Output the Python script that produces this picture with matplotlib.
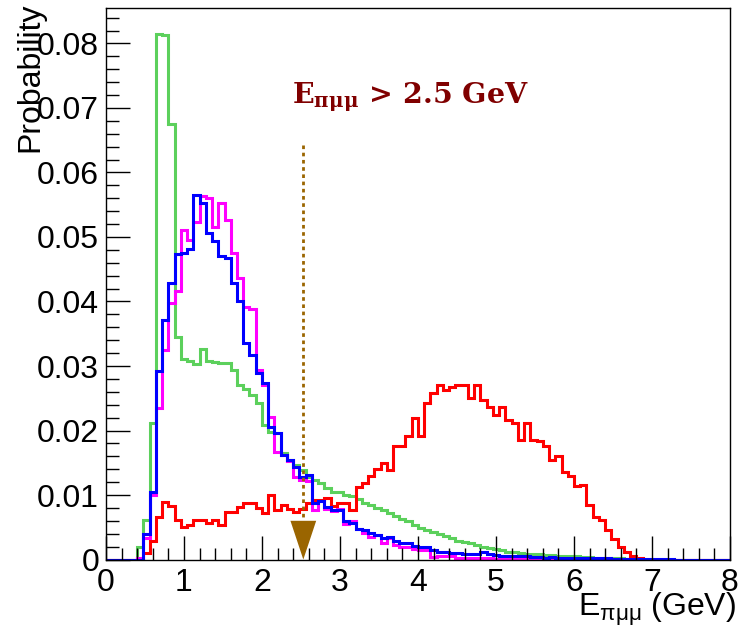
import numpy as np
import matplotlib
matplotlib.use("Agg")
import matplotlib.pyplot as plt
from matplotlib.ticker import MultipleLocator

# 100 bins of 0.08 GeV between 0 and 8
x_min, x_max, n_bins = 0.0, 8.0, 100

green = [0, 0, 0, 0, 0, .0020, .0061, .0211, .0815, .0813,
         .0675, .0345, .0311, .0307, .0303, .0326, .0308, .0306, .0304, .0304,
         .0294, .0271, .0265, .0255, .0242, .0209, .0198, .0196, .0165, .0154,
         .0147, .0139, .0128, .0123, .0119, .0111, .0105, .0105, .0100, .0098,
         .0094, .0087, .0085, .0080, .0077, .0072, .0068, .0063, .0059, .0054,
         .0049, .0046, .0043, .0039, .0036, .0033, .0029, .0027, .0025, .0023,
         .0020, .0018, .0016, .0014, .0012, .0011, .0010, .0009, .0008, .0008,
         .0007, .0007, .0006, .0006, .0005, .0005, .0004, .0004, .0003, .0003,
         .0003, .0002, .0002, .0001, .0001, 0, 0, 0, 0, 0,
         0, 0, 0, 0, 0, 0, 0, 0, 0, 0]

magenta = [0, 0, 0, 0, 0, .0003, .0033, .0100, .0235, .0325,
           .0398, .0417, .0511, .0496, .0524, .0563, .0560, .0516, .0553, .0526,
           .0475, .0436, .0392, .0389, .0294, .0271, .0221, .0167, .0162, .0152,
           .0128, .0123, .0121, .0077, .0090, .0079, .0075, .0078, .0055, .0060,
           .0048, .0041, .0035, .0038, .0026, .0033, .0022, .0020, .0020, .0017,
           .0014, .0014, .0004, .0005, .0005, .0005, .0002, .0002, .0003, .0002,
           .0002, .0002, .0001, .0002, .0001, .0001, .0001, .0001, .0001, .0001,
           .0001, .0001, .0001, .0001, .0001, .0001, .0001, .0001, .0001, .0001,
           .0001, .0001, .0001, .0001, .0001, .0001, 0, 0, 0, 0,
           0, 0, 0, 0, 0, 0, 0, 0, 0, 0]

blue = [0, 0, 0, 0, 0, 0, .0040, .0105, .0293, .0371,
        .0428, .0473, .0475, .0482, .0565, .0553, .0506, .0494, .0471, .0467,
        .0428, .0400, .0335, .0317, .0289, .0273, .0206, .0196, .0162, .0154,
        .0144, .0128, .0131, .0088, .0090, .0082, .0077, .0077, .0060, .0056,
        .0048, .0046, .0041, .0038, .0033, .0035, .0028, .0025, .0025, .0021,
        .0019, .0019, .0015, .0011, .0012, .0010, .0010, .0009, .0009, .0008,
        .0011, .0008, .0007, .0006, .0006, .0005, .0006, .0005, .0004, .0004,
        .0003, .0004, .0003, .0003, .0003, .0002, .0003, .0002, .0002, .0002,
        .0002, .0001, .0001, .0001, .0001, .0001, .0001, .0001, .0001, .0001,
        .0001, 0, 0, 0, 0, 0, 0, 0, 0, 0]

red = [0, 0, 0, 0, 0, 0, .0010, .0028, .0066, .0089,
       .0083, .0061, .0050, .0053, .0061, .0061, .0056, .0061, .0053, .0073,
       .0074, .0082, .0088, .0088, .0080, .0072, .0100, .0077, .0085, .0079,
       .0074, .0079, .0087, .0092, .0092, .0095, .0083, .0088, .0088, .0077,
       .0112, .0119, .0129, .0140, .0149, .0139, .0176, .0176, .0191, .0219,
       .0191, .0243, .0258, .0271, .0263, .0267, .0271, .0271, .0250, .0271,
       .0247, .0237, .0224, .0237, .0217, .0211, .0186, .0212, .0186, .0183,
       .0176, .0155, .0160, .0135, .0130, .0114, .0115, .0084, .0066, .0062,
       .0045, .0032, .0020, .0012, .0005, .0002, 0, 0, 0, 0,
       0, 0, 0, 0, 0, 0, 0, 0, 0, 0]

cut_value = 2.53
cut_line_top = 0.0643
y_top = 0.0855

edges = np.linspace(x_min, x_max, n_bins + 1)

plt.rcParams['font.family'] = ['Liberation Sans', 'DejaVu Sans']
plt.rcParams['mathtext.fontset'] = 'custom'
plt.rcParams['mathtext.rm'] = 'Liberation Sans'
plt.rcParams['mathtext.it'] = 'Liberation Sans'

fs = 23

fig = plt.figure(figsize=(7.39, 6.31), dpi=100)
ax = fig.add_axes([0.1434, 0.1133, 0.9878 - 0.1434, 0.9873 - 0.1133])

lw = 2.2
ax.stairs(green, edges, color='#5cd05c', lw=lw)
ax.stairs(red, edges, color='#ff0000', lw=lw)
ax.stairs(magenta, edges, color='#ff00ff', lw=lw)
ax.stairs(blue, edges, color='#0000ff', lw=lw)

# cut line and arrow head
arrow_col = '#9a6500'
head_h = 0.0060
head_w = 0.165
ax.plot([cut_value, cut_value], [cut_line_top, head_h], color=arrow_col,
        lw=2, linestyle=(0, (1.3, 1.3)))
ax.fill([cut_value - head_w, cut_value + head_w, cut_value],
        [head_h, head_h, 0], color=arrow_col, lw=0)

ax.text(2.39, 0.0717, r'E$_{\mathbf{\pi\mu\mu}}$ > 2.5 GeV', color='#800000',
        fontsize=20.5, fontweight='bold', family='DejaVu Serif',
        math_fontfamily='dejavuserif', va='center', ha='left')

ax.set_xlim(x_min, x_max)
ax.set_ylim(0, y_top)
ax.xaxis.set_major_locator(MultipleLocator(1))
ax.xaxis.set_minor_locator(MultipleLocator(0.2))
ax.yaxis.set_major_locator(MultipleLocator(0.01))
ax.yaxis.set_minor_locator(MultipleLocator(0.002))
ax.set_yticklabels([f'{v:g}' for v in ax.get_yticks()])
ax.tick_params(which='both', direction='in', top=False, right=False,
               labelsize=fs, width=1)
ax.tick_params(which='major', length=17)
ax.tick_params(which='minor', length=9)
ax.tick_params(axis='x', pad=6)
ax.tick_params(axis='y', pad=5)
for s in ax.spines.values():
    s.set_linewidth(1)

fig.text(30 / 739, 1 - 3 / 631, 'Probability', rotation=90, fontsize=fs,
         ha='center', va='top')
fig.text(736 / 739, 1 - 609 / 631, r'E$_{\pi\mu\mu}$ (GeV)', fontsize=fs,
         ha='right', va='center')

fig.savefig('out.png', dpi=100)
